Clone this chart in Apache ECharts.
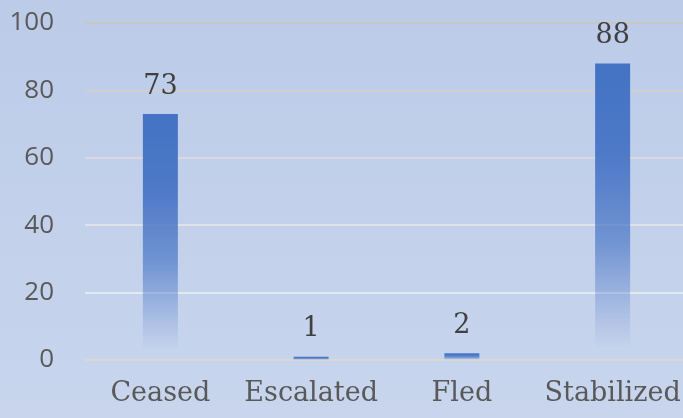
<!DOCTYPE html>
<html>
<head>
<meta charset="utf-8">
<script src="https://cdn.jsdelivr.net/npm/echarts@6/dist/echarts.min.js"></script>
<style>
  html, body { margin: 0; padding: 0; }
  #chart {
    width: 683px;
    height: 418px;
    background: linear-gradient(to bottom, #bccbe8, #c8d5ed);
  }
</style>
</head>
<body>
<div id="chart"></div>
<script>
// outcome categories and counts
const categories = ["Ceased", "Escalated", "Fled", "Stabilized"];
const counts = [73, 1, 2, 88];
const yTicks = { min: 0, max: 100, interval: 20 };

const chart = echarts.init(document.getElementById("chart"), null, { renderer: "canvas" });

const barFill = new echarts.graphic.LinearGradient(0, 0, 0, 1, [
  { offset: 0, color: "rgba(68,114,196,1)" },
  { offset: 0.3, color: "rgba(68,114,196,0.93)" },
  { offset: 0.6, color: "rgba(68,114,196,0.65)" },
  { offset: 0.85, color: "rgba(68,114,196,0.18)" },
  { offset: 0.96, color: "rgba(68,114,196,0)" },
]);

chart.setOption({
  animation: false,
  grid: { left: 85, top: 23, width: 603, height: 337, outerBoundsMode: "none" },
  xAxis: {
    type: "category",
    data: categories,
    axisLine: { show: false },
    axisTick: { show: false },
    axisLabel: {
      color: "#595959",
      fontFamily: "DejaVu Serif",
      fontSize: 27,
      margin: 20,
      interval: 0,
      hideOverlap: false,
    },
  },
  yAxis: {
    type: "value",
    min: yTicks.min,
    max: yTicks.max,
    interval: yTicks.interval,
    axisLine: { show: false },
    axisTick: { show: false },
    splitLine: {
      lineStyle: {
        // lines fade from warm grey at the top to near white lower down
        color: ["#dad8d4", "#e4e8f0", "#dfe2e9", "#d8d9de", "#d0cfd0", "#cac7c3"],
        width: 2,
      },
    },
    axisLabel: {
      color: "#595959",
      fontFamily: "Open Sans",
      fontSize: 26,
      margin: 31,
    },
  },
  series: [
    {
      type: "bar",
      data: counts,
      barWidth: 35,
      itemStyle: { color: barFill },
      label: {
        show: true,
        position: "top",
        distance: 14,
        color: "#404040",
        fontFamily: "DejaVu Serif",
        fontSize: 27,
      },
    },
  ],
});
</script>
</body>
</html>
